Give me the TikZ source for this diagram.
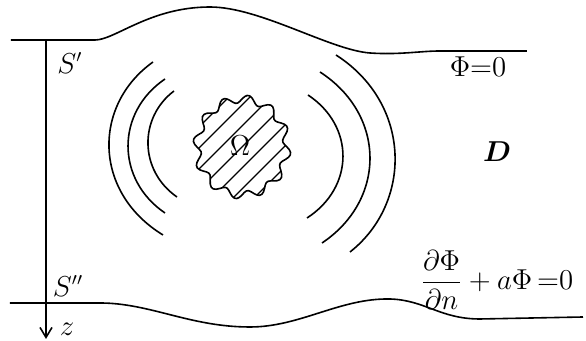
\documentclass[tikz,border=0pt]{standalone}
\usepackage{amsmath,bm}
\usetikzlibrary{arrows.meta}

\tikzset{
  lbl/.style={font=\fontsize{13.5}{15}\selectfont, inner sep=0pt},
  hatch/.style={line width=0.7pt}
}

\begin{document}
\begin{tikzpicture}[x=0.5pt,y=-0.5pt,line width=0.8pt]
 \useasboundingbox (0,0) rectangle (586,341);
 % upper surface S'
 \draw (11,40) -- (95,40) .. controls (115,40) and (150,7) .. (210,7)
   .. controls (260,7) and (330,50) .. (370,53)
   .. controls (400,55) and (420,51) .. (440,51) -- (527,51);
 % lower surface S''
 \draw (10,303) -- (100,303) .. controls (150,303) and (190,327) .. (250,327)
   .. controls (300,327) and (340,298) .. (390,299)
   .. controls (425,300) and (440,319) .. (480,319) -- (583,317);
 % z axis
 \coordinate (ztop) at (46,40);
 \coordinate (zend) at (46,339);
 \draw[-{Straight Barb[length=5pt,width=6pt]}] (ztop) -- (zend);
 % waves, left then right
 \foreach \ax/\ay/\bx/\by/\cx/\cy/\dx/\dy in {
   153/62/92.7/105/92.7/192/163/235,
   165/79/115.7/112.5/115.7/179.5/165/213,
   174/91/138.8/117.5/138.8/170.5/177/197,
   308/95/354.8/126/354.8/187/307/218,
   320/72/386.3/115/386.3/200/322/243,
   336/55/412.3/104/412.3/203/350/252}{%
   \draw (\ax,\ay) .. controls (\bx,\by) and (\cx,\cy) .. (\dx,\dy);
 }
 % body Omega
 \begin{scope}
  \clip plot[smooth cycle,domain=0:357,samples=120]
    ({242+(45+4*sin(12*\x))*cos(\x)},{147+(48+4*sin(12*\x))*sin(\x)});
  \foreach \k in {-5,...,5}
   \draw[hatch] (242+\k*21-90,147+90) -- ++(180,-180);
 \end{scope}
 \draw plot[smooth cycle,domain=0:357,samples=120]
   ({242+(45+4*sin(12*\x))*cos(\x)},{147+(48+4*sin(12*\x))*sin(\x)});
 % labels
 \node[lbl] (om) at (240,146) {$\mathrm{\Omega}$};
 \node[lbl] (s1) at (70,63) {$S'$};
 \node[lbl] (s2) at (68,286) {$S''$};
 \node[lbl] (zl) at (67,329) {$z$};
 \node[lbl] (dl) at (497,152) {$\bm{D}$};
 \node[lbl] (bc1) at (478,67) {$\Phi{=}0$};
 \node[lbl] (bc2) at (497,280) {$\dfrac{\partial\Phi}{\partial n}+a\Phi\,{=}0$};
\end{tikzpicture}
\end{document}
